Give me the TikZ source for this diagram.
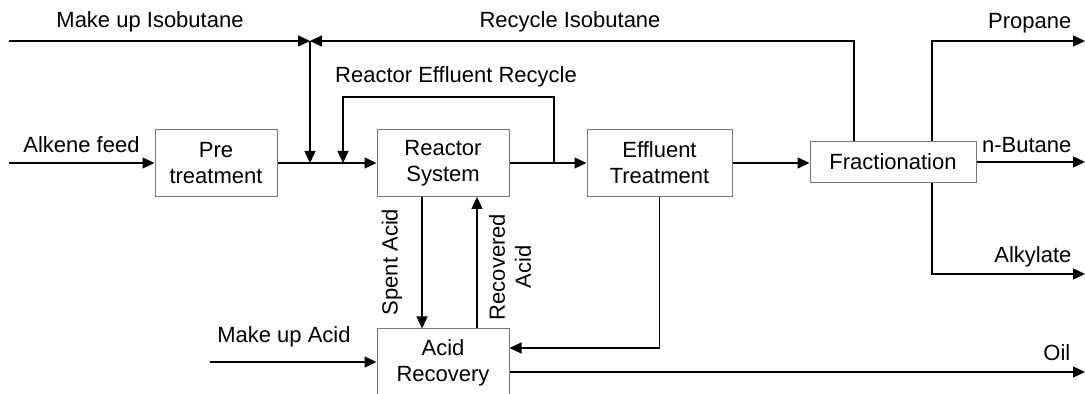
\documentclass[tikz,border=0pt]{standalone}
\usepackage{fontspec}
\setmainfont{Liberation Sans}
\usetikzlibrary{arrows.meta}
\definecolor{boxgray}{RGB}{120,120,120}
\tikzset{
  flowsheet/.style={x=0.5pt,y=0.5pt,font=\fontsize{11}{13}\selectfont,line width=0.65pt,
    >={Triangle[length=6pt,width=5.5pt]}},
  unit/.style={draw=boxgray,line width=0.5pt,align=center,inner sep=0pt,minimum height=33.5pt},
  tag/.style={inner sep=0pt,align=center}
}

\begin{document}
\begin{tikzpicture}[flowsheet]
    \useasboundingbox (0,0) rectangle (1085,394);
    % process units
    \node[unit,minimum width=61pt]   (pre)      at (216,231)   {Pre\\treatment};
    \node[unit,minimum width=66pt]   (reactor)  at (443,231)   {Reactor\\System};
    \node[unit,minimum width=72.5pt] (effluent) at (659.5,231) {Effluent\\Treatment};
    \node[unit,minimum width=83pt,minimum height=20.5pt] (frac) at (893,232) {Fractionation};
    \node[unit,minimum width=66pt]   (acid)     at (443,31.5)  {Acid\\Recovery};
    % stream ends and taps
    \coordinate (feed)   at (9,231);
    \coordinate (mkiso)  at (9,353);
    \coordinate (jiso)   at (310,353);
    \coordinate (riso)   at (854,353);
    \coordinate (rtap)   at (554,231);
    \coordinate (rret)   at (343,231);
    \coordinate (split)  at (932,0);
    \coordinate (spent)  at (422,0);
    \coordinate (recov)  at (477,0);
    \coordinate (mkacid) at (210,32);
    \coordinate (propane)  at (1085,353);
    \coordinate (butane)   at (1085,232);
    \coordinate (alkylate) at (1085,120);
    \coordinate (oil)      at (1085,22);
    % main line
    \draw[->] (feed) -- (pre);
    \draw[->] (pre) -- (reactor);
    \draw[->] (reactor) -- (effluent);
    \draw[->] (effluent) -- (effluent -| frac.west);
    % isobutane make up and recycle
    \draw[->] (mkiso) -- (jiso);
    \draw[->] (riso |- frac.north) -- (riso) -- (jiso);
    \draw[->] (jiso) -- (jiso |- pre);
    \draw[->] (rtap) -- ++(0,66) -| (rret);
    % products
    \draw[->] (split |- frac.north) |- (propane);
    \draw[->] (frac) -- (butane);
    \draw[->] (split |- frac.south) |- (alkylate);
    % acid loop
    \draw[->] (spent |- reactor.south) -- (spent |- acid.north);
    \draw[->] (recov |- acid.north) -- (recov |- reactor.south);
    \draw[->] (mkacid) -- (mkacid -| acid.west);
    \draw[->] (effluent.south) |- ([yshift=7.25pt]acid.east);
    \draw[->] ([yshift=-4.75pt]acid.east) -- (oil);
    % stream labels
    \node[tag] (lmkiso) at (150,372) {Make up Isobutane};
    \node[tag] (lriso)  at (570,372) {Recycle Isobutane};
    \node[tag] (lrecy)  at (456,317) {Reactor Effluent Recycle};
    \node[tag] (lfeed)  at (81.5,249) {Alkene feed};
    \node[tag,anchor=east] (lprop) at (1072,371) {Propane};
    \node[tag,anchor=east] (lbut)  at (1072,249) {n-Butane};
    \node[tag,anchor=east] (lalk)  at (1072,137) {Alkylate};
    \node[tag,anchor=east] (loil)  at (1071,41)  {Oil};
    \node[tag] (lmkacid) at (284,57) {Make up Acid};
    \node[tag,rotate=90] (lspent) at (392,132) {Spent Acid};
    \node[tag,rotate=90] (lrecov) at (510,127) {Recovered\\Acid};
\end{tikzpicture}
\end{document}
